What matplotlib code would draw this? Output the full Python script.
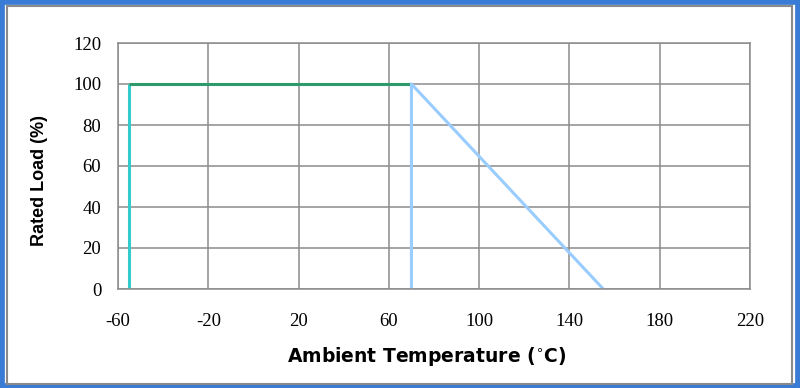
import matplotlib
matplotlib.use("Agg")
import matplotlib.pyplot as plt
from matplotlib.patches import Rectangle

plt.rcParams["axes.unicode_minus"] = False

# Data
x_ticks = [-60, -20, 20, 60, 100, 140, 180, 220]
y_ticks = [0, 20, 40, 60, 80, 100, 120]
cold_x = [-55, -55]
cold_y = [0, 100]
flat_x = [-55, 70]
flat_y = [100, 100]
derate_x = [70, 70, 155]
derate_y = [0, 100, 0]

fig = plt.figure(figsize=(8, 3.88), dpi=100)
fig.patch.set_facecolor("white")

# Outer blue border and inner grey frame
fig.patches.append(Rectangle((0, 0), 1, 1, transform=fig.transFigure,
                             fill=False, edgecolor="#3a7bd5", linewidth=7, zorder=0))
fig.patches.append(Rectangle((7/800, 4/388), 785/800, 378/388, transform=fig.transFigure,
                             fill=False, edgecolor="#8a8a8a", linewidth=1.5, zorder=0))

ax = fig.add_axes([118/800, 1 - 289/388, 632/800, 246/388])
ax.set_xlim(-60, 220)
ax.set_ylim(0, 120)
ax.set_xticks(x_ticks)
ax.set_yticks(y_ticks)
ax.grid(True, color="#8c8c8c", linewidth=1.1)
ax.set_axisbelow(True)
for s in ax.spines.values():
    s.set_color("#8c8c8c")
    s.set_linewidth(1.1)
ax.tick_params(length=0, labelsize=13.5)
ax.tick_params(axis="y", pad=12)
ax.tick_params(axis="x", pad=17)
for lab in ax.get_xticklabels() + ax.get_yticklabels():
    lab.set_family("Liberation Serif")

ax.plot(cold_x, cold_y, color="#33cccc", linewidth=2.2, solid_capstyle="butt")
ax.plot(flat_x, flat_y, color="#2e9a6c", linewidth=2.2, solid_capstyle="butt")
ax.plot(derate_x, derate_y, color="#99ccff", linewidth=2.2, solid_capstyle="butt")

fig.text(40/800, 1 - 180/388, "Rated Load (%)", rotation=90, ha="center", va="center",
         fontsize=13, fontweight="bold", family="Liberation Sans")
fig.text(427/800, 1 - 357/388, "Ambient Temperature ($^{\\circ}$C)", ha="center", va="center",
         fontsize=13.5, fontweight="bold", family="DejaVu Sans")

fig.savefig("out.png", dpi=100)
